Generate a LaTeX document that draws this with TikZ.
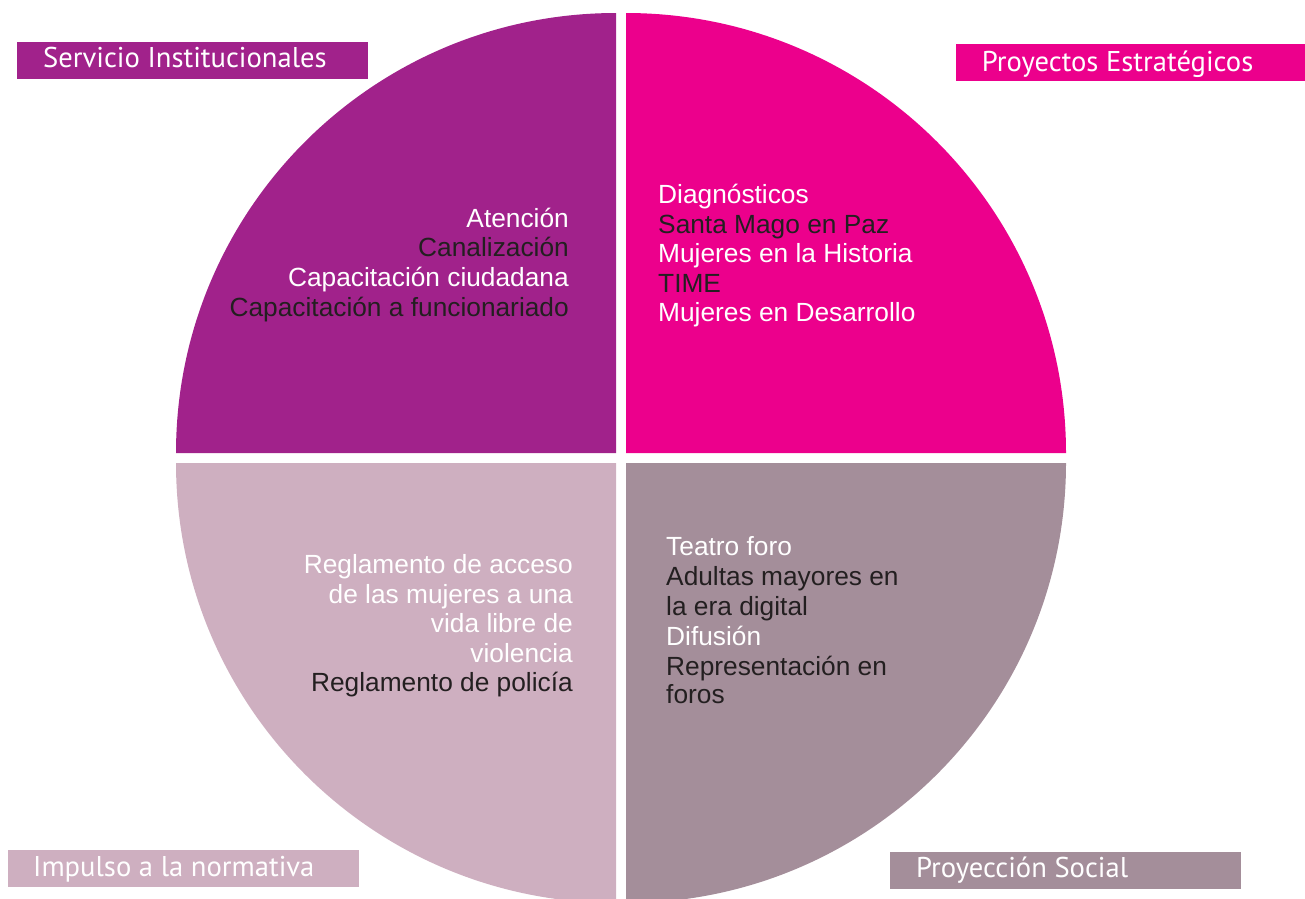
\documentclass[tikz,border=0pt]{standalone}
\usepackage{fontspec}
\setmainfont{Liberation Sans}
\newfontfamily\labfont{PT Sans}
\definecolor{cpurple}{HTML}{A1228B}
\definecolor{cpink}{HTML}{EC008C}
\definecolor{cmauve}{HTML}{CEAFC0}
\definecolor{cgrey}{HTML}{A48E9A}
\definecolor{cdark}{HTML}{231F20}
\tikzset{
  wt/.style={inner sep=0pt, text=white, font=\fontsize{26.3}{29}\selectfont},
  dk/.style={inner sep=0pt, text=cdark, font=\fontsize{26.3}{29}\selectfont},
  labbox/.style={inner sep=0pt, minimum width=351pt, minimum height=36.5pt, anchor=north west},
  labtext/.style={inner sep=0pt, text=white, font=\labfont\fontsize{28.6}{30}\selectfont, anchor=base west}
}
\begin{document}
\begin{tikzpicture}[x=1pt,y=-1pt]
\useasboundingbox (0,0) rectangle (1305,898);
\clip (0,0) rectangle (1305,898);
% quadrants
\fill[cpurple] (616,453) -- (176,453) arc[start angle=180, end angle=270, radius=440] -- cycle;
\fill[cpink] (626,453) -- (1066,453) arc[start angle=0, end angle=-90, radius=440] -- cycle;
\fill[cmauve] (616,463) -- (176,463) arc[start angle=180, end angle=90, radius=440] -- cycle;
\fill[cgrey] (626,463) -- (1066,463) arc[start angle=0, end angle=90, radius=440] -- cycle;
% label boxes
\node[labbox, fill=cpurple] (box1) at (17,42) {};
\node[labtext] (lab1) at (43,67.7) {Servicio Institucionales};
\node[labbox, fill=cpink] (box2) at (956,44) {};
\node[labtext] (lab2) at (981.7,71.7) {Proyectos Estratégicos};
\node[labbox, fill=cmauve] (box3) at (8,850) {};
\node[labtext] (lab3) at (33,876) {Impulso a la normativa};
\node[labbox, fill=cgrey] (box4) at (890,852) {};
\node[labtext] (lab4) at (916,877.7) {Proyección Social};
% top-left text
\node[wt, anchor=base east] (tl1) at (569,227) {Atención};
\node[dk, anchor=base east] (tl2) at (569,256.5) {Canalización};
\node[wt, anchor=base east] (tl3) at (569,286) {Capacitación ciudadana};
\node[dk, anchor=base east] (tl4) at (569,316) {Capacitación a funcionariado};
% top-right text
\node[wt, anchor=base west] (tr1) at (658,203) {Diagnósticos};
\node[dk, anchor=base west] (tr2) at (658,233) {Santa Mago en Paz};
\node[wt, anchor=base west] (tr3) at (658,262) {Mujeres en la Historia};
\node[dk, anchor=base west] (tr4) at (658,292) {TIME};
\node[wt, anchor=base west] (tr5) at (658,321) {Mujeres en Desarrollo};
% bottom-left text
\node[wt, anchor=base east] (bl1) at (573,573) {Reglamento de acceso};
\node[wt, anchor=base east] (bl2) at (573,603) {de las mujeres a una};
\node[wt, anchor=base east] (bl3) at (573,632) {vida libre de};
\node[wt, anchor=base east] (bl4) at (573,662) {violencia};
\node[dk, anchor=base east] (bl5) at (573,691) {Reglamento de policía};
% bottom-right text
\node[wt, anchor=base west] (br1) at (666,555) {Teatro foro};
\node[dk, anchor=base west] (br2) at (666,585) {Adultas mayores en};
\node[dk, anchor=base west] (br3) at (666,615) {la era digital};
\node[wt, anchor=base west] (br4) at (666,645) {Difusión};
\node[dk, anchor=base west] (br5) at (666,675) {Representación en};
\node[dk, anchor=base west] (br6) at (666,703) {foros};
\end{tikzpicture}
\end{document}
